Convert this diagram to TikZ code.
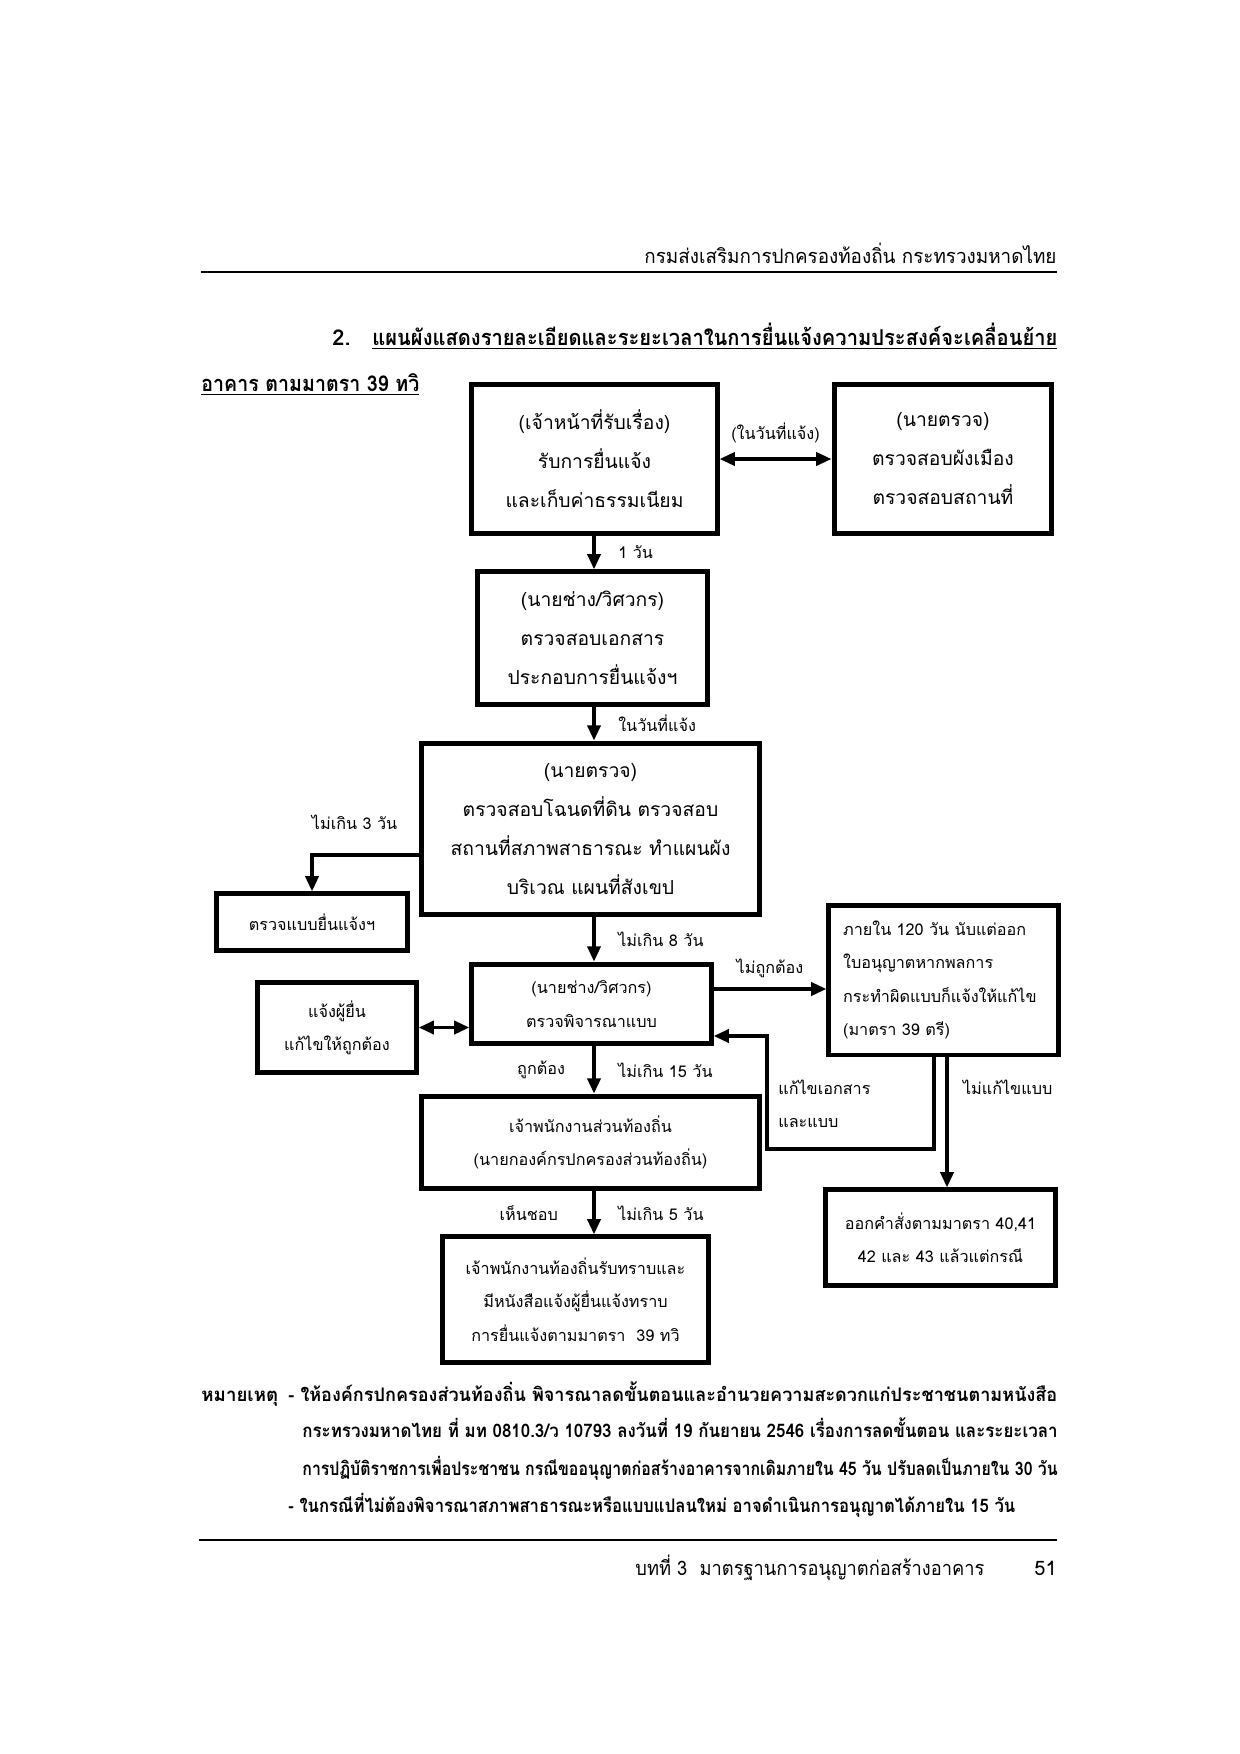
\documentclass[tikz,border=0pt]{standalone}
\usepackage{graphicx}
\usepackage{fontspec}
\setmainfont[Script=Thai]{Loma}
\usetikzlibrary{positioning,calc,arrows.meta}
\newcommand\fitto[2]{\resizebox{#1}{\height}{#2}}
\tikzset{
  box/.style={draw, line width=2.4pt, align=center, inner sep=2pt},
  big/.style={font=\fontsize{9.3}{18.8}\selectfont},
  sml/.style={font=\fontsize{7.8}{16}\selectfont},
  lbl/.style={inner sep=0pt, font=\fontsize{7.8}{16}\selectfont},
  note/.style={anchor=base west, inner sep=0pt, font=\bfseries\fontsize{9}{12}\selectfont},
  arr/.style={line width=1.8pt, -{Triangle[length=2.6mm, width=2.2mm]}},
  darr/.style={line width=1.8pt, {Triangle[length=2.6mm, width=2.2mm]}-{Triangle[length=2.6mm, width=2.2mm]}},
  hrule/.style={line width=1.1pt}}
\begin{document}
\begin{tikzpicture}[x=0.16935mm, y=-0.16935mm]
\useasboundingbox (0,0) rectangle (1240,1754);
% page head
\node[anchor=base east, inner sep=0pt, font=\fontsize{9.6}{12}\selectfont] (head) at (1057,263) {\fitto{69.8mm}{กรมส่งเสริมการปกครองท้องถิ่น กระทรวงมหาดไทย}};
\draw[hrule] (201,272) -- (1057,272);
\node[anchor=base west, inner sep=0pt, font=\bfseries\fontsize{10.5}{14}\selectfont] (num) at (332,345) {2.};
\node[anchor=base west, inner sep=0pt, font=\bfseries\fontsize{10.5}{14}\selectfont] (title) at (372,345) {\fitto{116mm}{\underline{แผนผังแสดงรายละเอียดและระยะเวลาในการยื่นแจ้งความประสงค์จะเคลื่อนย้าย}}};
\node[anchor=base west, inner sep=0pt, font=\bfseries\fontsize{10.5}{14}\selectfont] (title2) at (201,391) {\fitto{36.9mm}{\underline{อาคาร ตามมาตรา 39 ทวิ}}};
% boxes
\coordinate (spine) at (594,0);
\node[box, big, minimum width=41.5mm, minimum height=25.1mm] (recv) at (594.5,459) {(เจ้าหน้าที่รับเรื่อง)\\รับการยื่นแจ้ง\\และเก็บค่าธรรมเนียม};
\node[box, big, minimum width=36.9mm, minimum height=25.1mm] (insp1) at (943,459) {(นายตรวจ)\\ตรวจสอบผังเมือง\\ตรวจสอบสถานที่};
\node[box, big, minimum width=38.8mm, minimum height=22.4mm] (eng1) at (592.5,638) {(นายช่าง/วิศวกร)\\ตรวจสอบเอกสาร\\ประกอบการยื่นแจ้งฯ};
\node[box, big, minimum width=57.4mm, minimum height=29.1mm] (insp2) at (590.5,829) {(นายตรวจ)\\ตรวจสอบโฉนดที่ดิน ตรวจสอบ\\สถานที่สภาพสาธารณะ ทำแผนผัง\\บริเวณ แผนที่สังเขป};
\node[box, sml, minimum width=32.5mm, minimum height=9.5mm] (chk) at (312,922) {ตรวจแบบยื่นแจ้งฯ};
\node[box, sml, minimum width=40.5mm, minimum height=13.5mm] (eng2) at (591.5,1004) {(นายช่าง/วิศวกร)\\ตรวจพิจารณาแบบ};
\node[box, sml, minimum width=26.8mm, minimum height=15.4mm] (notify) at (337,1027.5) {แจ้งผู้ยื่น\\แก้ไขให้ถูกต้อง};
\node[box, sml, align=left, text width=34mm, inner xsep=2.4mm, minimum height=25.4mm] (fix120) at (943.5,980) {ภายใน 120 วัน นับแต่ออก\\ใบอนุญาตหากพลการ\\กระทำผิดแบบก็แจ้งให้แก้ไข\\(มาตรา 39 ตรี)};
\node[box, sml, minimum width=57.4mm, minimum height=15.7mm] (local) at (590.5,1142.5) {เจ้าพนักงานส่วนท้องถิ่น\\(นายกองค์กรปกครองส่วนท้องถิ่น)};
\node[box, sml, minimum width=38.8mm, minimum height=16.1mm] (order) at (940.5,1237.5) {ออกคำสั่งตามมาตรา 40,41\\42 และ 43 แล้วแต่กรณี};
\node[box, sml, minimum width=44.9mm, minimum height=21.2mm] (ack) at (575.5,1299.5) {เจ้าพนักงานท้องถิ่นรับทราบและ\\มีหนังสือแจ้งผู้ยื่นแจ้งทราบ\\การยื่นแจ้งตามมาตรา\ \ 39 ทวิ};
% connectors
\draw[darr] (recv.east) -- (insp1.west) node[lbl, midway, above=2.4mm] {(ในวันที่แจ้ง)};
\draw[arr] (recv.south -| spine) -- (eng1.north -| spine) node[lbl, midway, right=3.8mm] {1 วัน};
\draw[arr] (eng1.south -| spine) -- (insp2.north -| spine) node[lbl, midway, right=3.8mm] {ในวันที่แจ้ง};
\coordinate (c3) at ($(insp2.west)+(0,26)$);
\draw[arr] (c3) -- node[lbl, pos=0.6, above=4mm] {ไม่เกิน 3 วัน} (c3 -| chk.north) -- (chk.north);
\draw[arr] (insp2.south -| spine) -- (eng2.north -| spine) node[lbl, midway, right=3.8mm] {ไม่เกิน 8 วัน};
\draw[darr] (notify.east) -- (notify.east -| eng2.west);
\coordinate (ng) at ($(eng2.east)+(0,-15)$);
\draw[arr] (ng) -- (ng -| fix120.west) node[lbl, midway, above=1.6mm] {ไม่ถูกต้อง};
\draw[arr] (eng2.south -| spine) -- (local.north -| spine) node[lbl, midway, right=3.8mm] {ไม่เกิน 15 วัน} node[lbl, midway, left=4.6mm] {ถูกต้อง};
\coordinate (rb) at (934,1149);
\coordinate (lb) at (767,1149);
\coordinate (lt) at (767,1036);
\draw[arr] (fix120.south -| rb) -- (rb) -- (lb) -- node[lbl, align=left, pos=0.4, right=1.6mm] {แก้ไขเอกสาร\\และแบบ} (lt) -- (lt -| eng2.east);
\coordinate (dn) at (947,0);
\draw[arr] (fix120.south -| dn) -- (order.north -| dn) node[lbl, pos=0.23, right=2.4mm] {ไม่แก้ไขแบบ};
\draw[arr] (local.south -| spine) -- (ack.north -| spine) node[lbl, midway, right=3.8mm] {ไม่เกิน 5 วัน} node[lbl, midway, left=5.8mm] {เห็นชอบ};
% remarks
\node[note] (rem) at (201,1401) {หมายเหตุ};
\node[note] (rem1) at (288,1401) {\fitto{130.2mm}{- ให้องค์กรปกครองส่วนท้องถิ่น พิจารณาลดขั้นตอนและอำนวยความสะดวกแก่ประชาชนตามหนังสือ}};
\node[note] (rem2) at (302,1437) {\fitto{127.9mm}{กระทรวงมหาดไทย ที่ มท 0810.3/ว 10793 ลงวันที่ 19 กันยายน 2546 เรื่องการลดขั้นตอน และระยะเวลา}};
\node[note] (rem3) at (302,1475) {\fitto{127.9mm}{การปฏิบัติราชการเพื่อประชาชน กรณีขออนุญาตก่อสร้างอาคารจากเดิมภายใน 45 วัน ปรับลดเป็นภายใน 30 วัน}};
\node[note] (rem4) at (288,1512) {\fitto{123.1mm}{- ในกรณีที่ไม่ต้องพิจารณาสภาพสาธารณะหรือแบบแปลนใหม่ อาจดำเนินการอนุญาตได้ภายใน 15 วัน}};
% page foot
\draw[hrule] (199,1540) -- (1057,1540);
\node[anchor=base west, inner sep=0pt, font=\fontsize{9.6}{12}\selectfont] (foot) at (635,1575) {\fitto{59.1mm}{บทที่ 3\ \ มาตรฐานการอนุญาตก่อสร้างอาคาร}};
\node[anchor=base east, inner sep=0pt, font=\fontsize{9.6}{12}\selectfont] (page) at (1057,1575) {51};
\end{tikzpicture}
\end{document}
